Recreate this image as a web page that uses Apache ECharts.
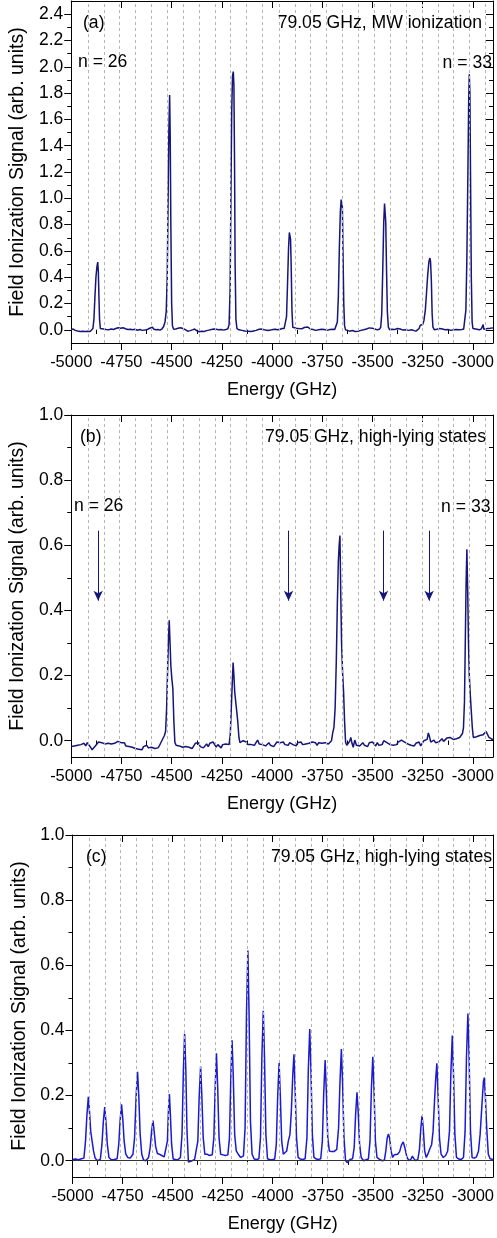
<!DOCTYPE html>
<html><head><meta charset="utf-8">
<script src="https://cdn.jsdelivr.net/npm/echarts@6/dist/echarts.min.js"></script>
<style>html,body{margin:0;padding:0;background:#fff}#c{width:497px;height:1238px}</style>
</head><body><div id="c"></div>
<script>
// ---------- data ----------
const energyTicks = [-5000,-4750,-4500,-4250,-4000,-3750,-3500,-3250,-3000];
const energyMinorTicks = [-4875,-4625,-4375,-4125,-3875,-3625,-3375,-3125];
const yTicksA = [0,0.2,0.4,0.6,0.8,1.0,1.2,1.4,1.6,1.8,2.0,2.2,2.4];
const yMinorA = [0.1,0.3,0.5,0.7,0.9,1.1,1.3,1.5,1.7,1.9,2.1,2.3];
const yTicksBC = [0,0.2,0.4,0.6,0.8,1.0];
const yMinorBC = [0.1,0.3,0.5,0.7,0.9];
// dotted reference lines (GHz)
const levelLines = [-4917,-4838,-4759,-4680,-4601,-4522,-4443,-4364,-4285,-4206,-4127,-4047,-3966,-3887,-3808,-3730,-3650,-3570,-3491,-3412,-3333,-3252,-3173,-3096,-3017,-2940];
// arrows in panel (b)
const arrowEnergies = [-4866,-3918,-3445,-3218];
const arrowTop = 0.645, arrowBottom = 0.43;

const signalA = [[-5000,0.002],[-4990,0.006],[-4980,-0.004],[-4968,-0.008],[-4955,-0.012],[-4942,-0.01],[-4930,-0.013],[-4918,-0.01],[-4906,-0.012],[-4898,-0.006],[-4892,0.01],[-4887,0.08],[-4882,0.25],[-4877,0.4],[-4872,0.48],[-4868,0.515],[-4865,0.44],[-4862,0.25],[-4859,0.08],[-4855,0.01],[-4848,0.0],[-4838,0.006],[-4826,0.002],[-4814,0.0],[-4802,0.006],[-4790,0.003],[-4778,0.01],[-4766,0.016],[-4754,0.012],[-4742,0.016],[-4730,0.008],[-4718,0.002],[-4706,0.005],[-4694,0.0],[-4682,0.004],[-4670,-0.003],[-4658,0.002],[-4646,-0.004],[-4634,-0.002],[-4622,0.002],[-4612,0.01],[-4604,0.022],[-4596,0.02],[-4588,0.004],[-4578,0.0],[-4568,0.003],[-4558,-0.002],[-4548,0.008],[-4540,0.025],[-4533,0.06],[-4527,0.14],[-4522,0.4],[-4518,0.95],[-4514,1.5],[-4510,1.785],[-4507,1.45],[-4504,0.8],[-4500,0.2],[-4496,0.03],[-4490,0.004],[-4480,0.006],[-4468,0.012],[-4456,0.016],[-4444,0.01],[-4432,0.002],[-4420,-0.01],[-4408,-0.006],[-4396,0.0],[-4386,0.006],[-4374,-0.008],[-4362,-0.014],[-4350,-0.01],[-4338,-0.012],[-4326,-0.006],[-4314,-0.002],[-4302,0.002],[-4290,0.006],[-4278,0.004],[-4266,0.0],[-4254,0.003],[-4242,-0.002],[-4230,0.002],[-4220,0.008],[-4214,0.04],[-4209,0.3],[-4205,1.0],[-4201,1.65],[-4197,1.93],[-4193,1.963],[-4190,1.86],[-4187,1.3],[-4184,0.5],[-4180,0.08],[-4175,0.01],[-4165,0.0],[-4150,-0.004],[-4135,-0.008],[-4120,-0.01],[-4105,-0.013],[-4092,-0.008],[-4080,-0.004],[-4068,0.002],[-4056,0.006],[-4044,0.003],[-4032,-0.002],[-4020,-0.005],[-4008,-0.002],[-3996,0.003],[-3984,0.005],[-3972,0.0],[-3960,0.004],[-3950,0.01],[-3940,0.01],[-3933,0.025],[-3928,0.1],[-3923,0.35],[-3918,0.62],[-3914,0.74],[-3911,0.744],[-3908,0.69],[-3905,0.5],[-3901,0.15],[-3897,0.02],[-3890,0.005],[-3880,0.012],[-3868,0.01],[-3852,0.008],[-3840,0.018],[-3832,0.03],[-3822,0.022],[-3810,0.006],[-3796,0.002],[-3782,-0.004],[-3768,0.0],[-3754,0.004],[-3740,0.002],[-3726,-0.004],[-3712,0.002],[-3698,0.004],[-3688,0.003],[-3680,0.015],[-3675,0.06],[-3670,0.25],[-3665,0.62],[-3660,0.9],[-3656,0.99],[-3653,1.0],[-3650,0.93],[-3647,0.6],[-3643,0.2],[-3639,0.03],[-3634,0.0],[-3626,-0.006],[-3614,-0.01],[-3600,-0.005],[-3586,-0.012],[-3572,-0.01],[-3558,-0.004],[-3544,0.0],[-3530,0.006],[-3516,0.015],[-3502,0.013],[-3488,0.006],[-3476,0.0],[-3466,0.004],[-3459,0.02],[-3454,0.12],[-3449,0.45],[-3444,0.82],[-3440,0.96],[-3437,0.973],[-3434,0.82],[-3430,0.45],[-3426,0.14],[-3421,0.02],[-3414,0.0],[-3404,0.004],[-3390,0.002],[-3376,0.01],[-3362,0.006],[-3348,-0.002],[-3334,0.0],[-3320,-0.004],[-3306,0.0],[-3292,-0.006],[-3282,-0.008],[-3274,-0.013],[-3268,0.01],[-3262,0.035],[-3256,0.045],[-3250,0.04],[-3244,0.07],[-3237,0.15],[-3231,0.28],[-3225,0.42],[-3219,0.52],[-3214,0.546],[-3211,0.52],[-3207,0.38],[-3203,0.12],[-3199,0.02],[-3192,0.0],[-3180,0.004],[-3166,0.01],[-3152,0.006],[-3138,0.0],[-3124,0.003],[-3110,-0.004],[-3096,0.0],[-3082,0.002],[-3068,0.0],[-3056,0.002],[-3046,0.006],[-3040,0.02],[-3035,0.15],[-3030,0.55],[-3025,1.2],[-3021,1.75],[-3018,1.943],[-3015,1.8],[-3012,1.2],[-3008,0.4],[-3004,0.06],[-3000,0.01],[-2992,0.0],[-2980,0.004],[-2968,0.0],[-2958,0.008],[-2952,0.02],[-2949,0.04],[-2946,0.005],[-2938,0.004],[-2926,0.01],[-2914,0.012],[-2900,0.015]];

const signalB = [[-5000,-0.018],[-4992,-0.02],[-4984,-0.016],[-4976,-0.022],[-4968,-0.014],[-4960,-0.02],[-4952,-0.012],[-4944,-0.018],[-4936,-0.008],[-4928,-0.016],[-4920,-0.006],[-4912,-0.012],[-4904,-0.02],[-4896,-0.028],[-4888,-0.024],[-4880,-0.016],[-4872,-0.01],[-4864,-0.004],[-4856,0.0],[-4848,-0.006],[-4840,-0.012],[-4832,-0.01],[-4824,-0.014],[-4816,-0.008],[-4808,-0.014],[-4800,-0.01],[-4792,-0.016],[-4784,-0.008],[-4776,-0.012],[-4768,-0.002],[-4760,0.004],[-4752,-0.006],[-4744,-0.012],[-4736,-0.006],[-4728,-0.016],[-4720,-0.01],[-4712,-0.018],[-4704,-0.012],[-4696,-0.02],[-4688,-0.016],[-4680,-0.024],[-4672,-0.018],[-4664,-0.026],[-4656,-0.02],[-4648,-0.028],[-4640,-0.018],[-4632,-0.024],[-4624,-0.014],[-4616,-0.022],[-4608,-0.028],[-4600,-0.02],[-4592,-0.026],[-4584,-0.024],[-4576,-0.03],[-4568,-0.022],[-4560,-0.014],[-4552,-0.004],[-4544,0.006],[-4536,0.016],[-4530,0.03],[-4525,0.1],[-4520,0.22],[-4516,0.31],[-4512,0.37],[-4508,0.3],[-4504,0.23],[-4499,0.19],[-4494,0.16],[-4489,0.06],[-4484,-0.005],[-4478,-0.014],[-4470,-0.01],[-4462,-0.016],[-4454,-0.012],[-4446,-0.02],[-4438,-0.014],[-4430,-0.018],[-4422,-0.012],[-4414,-0.02],[-4406,-0.014],[-4398,-0.024],[-4390,-0.016],[-4382,-0.008],[-4374,-0.014],[-4366,-0.006],[-4358,-0.018],[-4350,-0.012],[-4342,-0.022],[-4334,-0.016],[-4326,-0.01],[-4318,-0.018],[-4310,-0.008],[-4302,-0.014],[-4294,-0.004],[-4286,-0.012],[-4278,-0.02],[-4270,-0.012],[-4262,-0.016],[-4254,-0.022],[-4246,-0.012],[-4238,-0.018],[-4230,-0.01],[-4222,-0.016],[-4214,-0.012],[-4208,0.02],[-4203,0.1],[-4198,0.18],[-4194,0.24],[-4190,0.2],[-4186,0.15],[-4181,0.12],[-4176,0.09],[-4171,0.06],[-4165,0.01],[-4160,-0.006],[-4152,-0.004],[-4144,0.0],[-4136,-0.006],[-4128,-0.004],[-4120,-0.012],[-4112,-0.008],[-4104,-0.012],[-4096,-0.006],[-4088,-0.014],[-4080,-0.006],[-4072,0.002],[-4064,-0.01],[-4056,-0.004],[-4048,-0.012],[-4040,-0.008],[-4032,-0.016],[-4024,-0.01],[-4016,-0.006],[-4008,-0.014],[-4000,-0.008],[-3992,-0.018],[-3984,-0.012],[-3976,-0.004],[-3968,-0.008],[-3960,-0.006],[-3952,-0.01],[-3944,-0.004],[-3936,-0.012],[-3928,-0.008],[-3920,-0.014],[-3912,-0.006],[-3904,0.0],[-3896,-0.012],[-3888,-0.008],[-3880,-0.016],[-3872,-0.006],[-3864,-0.01],[-3856,-0.004],[-3848,-0.012],[-3840,-0.006],[-3832,-0.01],[-3824,-0.016],[-3816,-0.008],[-3808,-0.012],[-3800,-0.004],[-3792,-0.01],[-3784,-0.006],[-3776,-0.014],[-3768,-0.006],[-3760,-0.012],[-3752,-0.008],[-3744,-0.014],[-3736,-0.006],[-3728,-0.012],[-3720,-0.01],[-3712,-0.016],[-3704,0.0],[-3698,0.025],[-3692,0.04],[-3686,0.1],[-3680,0.25],[-3675,0.42],[-3670,0.55],[-3666,0.6],[-3662,0.63],[-3658,0.45],[-3654,0.3],[-3649,0.21],[-3644,0.15],[-3639,0.06],[-3634,-0.005],[-3628,-0.014],[-3620,-0.02],[-3614,-0.002],[-3608,0.01],[-3602,-0.008],[-3596,-0.02],[-3588,0.002],[-3580,-0.014],[-3572,-0.01],[-3564,-0.016],[-3556,-0.012],[-3548,-0.006],[-3540,-0.014],[-3532,-0.008],[-3524,-0.018],[-3516,-0.006],[-3508,-0.012],[-3500,-0.004],[-3492,-0.01],[-3484,-0.016],[-3476,-0.006],[-3468,-0.014],[-3460,-0.008],[-3452,-0.012],[-3444,0.0],[-3436,0.006],[-3428,-0.006],[-3420,-0.002],[-3412,-0.012],[-3404,-0.006],[-3396,-0.014],[-3388,-0.008],[-3380,-0.012],[-3372,-0.004],[-3364,-0.01],[-3356,0.002],[-3348,0.004],[-3340,-0.004],[-3332,-0.002],[-3324,-0.01],[-3316,-0.006],[-3308,-0.014],[-3300,-0.01],[-3292,-0.016],[-3284,-0.008],[-3276,-0.012],[-3268,-0.004],[-3260,-0.016],[-3252,-0.01],[-3244,0.0],[-3236,-0.002],[-3228,0.004],[-3222,0.024],[-3216,0.012],[-3210,-0.004],[-3202,-0.01],[-3194,0.002],[-3186,-0.006],[-3178,0.0],[-3170,-0.004],[-3162,0.002],[-3154,0.006],[-3146,-0.002],[-3138,0.004],[-3130,0.008],[-3122,0.002],[-3114,0.01],[-3106,0.016],[-3098,0.004],[-3090,0.008],[-3082,0.006],[-3074,0.012],[-3066,0.01],[-3058,0.016],[-3052,0.022],[-3047,0.04],[-3042,0.12],[-3038,0.3],[-3034,0.48],[-3030,0.588],[-3026,0.46],[-3022,0.3],[-3018,0.2],[-3013,0.14],[-3008,0.09],[-3003,0.04],[-2998,0.01],[-2990,0.008],[-2982,0.012],[-2974,0.01],[-2966,0.016],[-2958,0.012],[-2950,0.018],[-2942,0.02],[-2934,0.028],[-2928,0.022],[-2920,0.01],[-2912,0.012],[-2904,0.004],[-2900,0.006]];

const signalC = [[-5000,0.004],[-4985,0.005],[-4970,0.003],[-4955,0.006],[-4943,0.008],[-4935,0.06],[-4928,0.14],[-4921,0.196],[-4915,0.15],[-4909,0.09],[-4902,0.06],[-4895,0.03],[-4887,0.008],[-4876,0.0],[-4868,0.002],[-4861,0.004],[-4853,0.05],[-4846,0.12],[-4839,0.165],[-4833,0.12],[-4826,0.05],[-4818,0.01],[-4806,0.003],[-4792,0.004],[-4777,0.006],[-4769,0.05],[-4762,0.125],[-4755,0.173],[-4749,0.13],[-4742,0.06],[-4734,0.02],[-4724,0.01],[-4712,0.008],[-4704,0.012],[-4698,0.02],[-4690,0.07],[-4682,0.2],[-4675,0.273],[-4669,0.2],[-4662,0.08],[-4654,0.02],[-4645,0.002],[-4634,0.0],[-4626,0.004],[-4620,0.01],[-4612,0.04],[-4605,0.09],[-4598,0.123],[-4592,0.09],[-4585,0.045],[-4576,0.022],[-4566,0.02],[-4554,0.016],[-4542,0.012],[-4534,0.012],[-4526,0.06],[-4521,0.15],[-4516,0.205],[-4511,0.14],[-4505,0.05],[-4497,0.005],[-4488,0.0],[-4476,0.002],[-4468,0.004],[-4461,0.01],[-4453,0.08],[-4446,0.28],[-4440,0.39],[-4434,0.28],[-4428,0.09],[-4421,-0.004],[-4413,-0.003],[-4402,0.0],[-4390,0.004],[-4382,0.006],[-4374,0.06],[-4367,0.2],[-4360,0.29],[-4354,0.2],[-4347,0.07],[-4339,0.02],[-4328,0.02],[-4316,0.016],[-4308,0.016],[-4302,0.018],[-4294,0.07],[-4287,0.23],[-4281,0.33],[-4275,0.23],[-4268,0.07],[-4260,0.02],[-4248,0.018],[-4236,0.016],[-4224,0.018],[-4216,0.07],[-4209,0.26],[-4203,0.37],[-4197,0.26],[-4190,0.08],[-4182,0.03],[-4172,0.02],[-4160,0.01],[-4152,0.01],[-4146,0.015],[-4138,0.1],[-4131,0.45],[-4124,0.645],[-4118,0.45],[-4111,0.12],[-4103,0.02],[-4092,0.005],[-4080,0.004],[-4069,0.006],[-4061,0.07],[-4054,0.32],[-4047,0.46],[-4041,0.32],[-4034,0.08],[-4026,0.006],[-4014,0.003],[-4002,0.003],[-3990,0.005],[-3982,0.05],[-3975,0.2],[-3968,0.30],[-3962,0.2],[-3955,0.06],[-3947,0.02],[-3938,0.014],[-3930,0.03],[-3922,0.06],[-3914,0.08],[-3907,0.15],[-3900,0.26],[-3894,0.327],[-3888,0.22],[-3881,0.07],[-3873,0.01],[-3862,0.005],[-3850,0.004],[-3838,0.006],[-3829,0.07],[-3822,0.28],[-3815,0.404],[-3809,0.28],[-3802,0.08],[-3794,0.01],[-3782,0.005],[-3770,0.004],[-3760,0.006],[-3752,0.06],[-3745,0.21],[-3738,0.309],[-3732,0.21],[-3725,0.07],[-3717,0.03],[-3706,0.028],[-3694,0.028],[-3686,0.03],[-3680,0.035],[-3671,0.1],[-3664,0.24],[-3657,0.343],[-3651,0.24],[-3644,0.07],[-3636,0.0],[-3626,-0.006],[-3614,0.004],[-3601,0.006],[-3593,0.04],[-3586,0.14],[-3579,0.21],[-3573,0.15],[-3566,0.05],[-3558,0.01],[-3546,0.0],[-3534,0.003],[-3522,0.005],[-3514,0.06],[-3507,0.22],[-3500,0.319],[-3494,0.22],[-3487,0.06],[-3479,0.01],[-3466,0.004],[-3452,0.0],[-3442,0.002],[-3435,0.03],[-3428,0.07],[-3422,0.082],[-3416,0.07],[-3409,0.03],[-3401,0.01],[-3393,0.018],[-3385,0.022],[-3376,0.02],[-3366,0.028],[-3357,0.048],[-3348,0.058],[-3340,0.04],[-3330,0.012],[-3320,0.0],[-3310,0.004],[-3302,0.014],[-3295,0.006],[-3285,0.0],[-3275,0.004],[-3267,0.035],[-3260,0.1],[-3254,0.138],[-3248,0.1],[-3241,0.03],[-3233,0.01],[-3225,0.02],[-3216,0.035],[-3206,0.05],[-3199,0.09],[-3192,0.18],[-3186,0.25],[-3180,0.299],[-3174,0.2],[-3167,0.07],[-3159,0.02],[-3148,0.01],[-3136,0.016],[-3126,0.03],[-3117,0.09],[-3110,0.27],[-3103,0.384],[-3097,0.27],[-3090,0.08],[-3082,0.01],[-3070,0.005],[-3058,0.004],[-3047,0.01],[-3039,0.09],[-3032,0.32],[-3025,0.452],[-3019,0.32],[-3012,0.09],[-3004,0.01],[-2993,0.008],[-2982,0.012],[-2972,0.03],[-2964,0.08],[-2958,0.14],[-2952,0.2],[-2947,0.245],[-2943,0.255],[-2938,0.2],[-2931,0.1],[-2923,0.02],[-2914,0.006],[-2900,0.004]];

// ---------- layout / style ----------
const FONT = '"Liberation Sans", Arial, sans-serif';
const panels = [
  {grid:{left:70, top:1, width:423, height:342}, ymin:-0.1, ymax:2.5, ticks:yTicksA, minor:yMinorA, data:signalA, color:'#15157a', nameGap:42},
  {grid:{left:67, top:415, width:426, height:342}, ymin:-0.05, ymax:1.0, ticks:yTicksBC, minor:yMinorBC, data:signalB, color:'#15157a', nameGap:40},
  {grid:{left:72.5, top:835, width:427, height:342}, ymin:-0.05, ymax:1.0, ticks:yTicksBC, minor:yMinorBC, data:signalC, color:'#1a1ad0', nameGap:43}
];

const grids = [], xAxes = [], yAxes = [], series = [];
const black = {color:'#000', width:1};
panels.forEach((p, i) => {
  grids.push(Object.assign({containLabel:false}, p.grid));
  const xb = {gridIndex:i, type:'value', min:-5000, max:-2900, splitLine:{show:false}};
  xAxes.push(Object.assign({}, xb, {position:'bottom',
    axisLine:{show:true, onZero:false, lineStyle:black},
    axisTick:{show:true, customValues:energyTicks, length:7, inside:false, lineStyle:black},
    axisLabel:{show:true, customValues:energyTicks, color:'#000', fontSize:16.5, fontFamily:FONT, margin:11,
      formatter: v => String(v)},
    name:'Energy (GHz)', nameLocation:'middle', nameGap:38,
    nameTextStyle:{color:'#000', fontSize:18, fontFamily:FONT}}));
  xAxes.push(Object.assign({}, xb, {position:'bottom',
    axisLine:{show:false}, axisLabel:{show:false},
    axisTick:{show:true, customValues:energyMinorTicks, length:4, inside:false, lineStyle:black}}));
  xAxes.push(Object.assign({}, xb, {position:'top',
    axisLine:{show:true, onZero:false, lineStyle:black}, axisLabel:{show:false},
    axisTick:{show:true, customValues:energyTicks, length:7, inside:true, lineStyle:black}}));
  xAxes.push(Object.assign({}, xb, {position:'top',
    axisLine:{show:false}, axisLabel:{show:false},
    axisTick:{show:true, customValues:energyMinorTicks, length:4, inside:true, lineStyle:black}}));

  const yb = {gridIndex:i, type:'value', min:p.ymin, max:p.ymax, splitLine:{show:false}};
  yAxes.push(Object.assign({}, yb, {position:'left',
    axisLine:{show:true, onZero:false, lineStyle:black},
    axisTick:{show:true, customValues:p.ticks, length:7, inside:false, lineStyle:black},
    axisLabel:{show:true, customValues:p.ticks, color:'#000', fontSize:17.5, fontFamily:FONT, margin:8,
      formatter: v => v.toFixed(1)},
    name:'Field Ionization Signal (arb. units)', nameLocation:'middle', nameGap:p.nameGap,
    nameTextStyle:{color:'#000', fontSize:19.5, fontFamily:FONT}}));
  yAxes.push(Object.assign({}, yb, {position:'left',
    axisLine:{show:false}, axisLabel:{show:false},
    axisTick:{show:true, customValues:p.minor, length:4, inside:false, lineStyle:black}}));
  yAxes.push(Object.assign({}, yb, {position:'right',
    axisLine:{show:true, onZero:false, lineStyle:black}, axisLabel:{show:false},
    axisTick:{show:true, customValues:p.ticks, length:7, inside:true, lineStyle:black}}));
  yAxes.push(Object.assign({}, yb, {position:'right',
    axisLine:{show:false}, axisLabel:{show:false},
    axisTick:{show:true, customValues:p.minor, length:4, inside:true, lineStyle:black}}));

  // dotted vertical reference lines
  const refMark = levelLines.map(v => ({xAxis:v}));
  const extra = [];
  if (i === 2) extra.push({yAxis:0, lineStyle:{color:'#333', type:'solid', width:1}});
  series.push({type:'line', xAxisIndex:4*i, yAxisIndex:4*i, data:[], z:1, silent:true,
    markLine:{silent:true, symbol:'none', animation:false, label:{show:false},
      lineStyle:{color:'#b4b4b4', type:[3,3], width:1},
      data: refMark.concat(extra)}});
  const s = {type:'line', xAxisIndex:4*i, yAxisIndex:4*i, data:p.data, showSymbol:false,
    lineStyle:{color:p.color, width:1.5}, itemStyle:{color:p.color}, z:3, silent:true, animation:false};
  if (i === 1) {
    s.markLine = {silent:true, animation:false, symbol:['none','arrow'], symbolSize:[7,10],
      label:{show:false}, lineStyle:{color:'#15157a', type:'solid', width:1},
      data: arrowEnergies.map(e => [{coord:[e, arrowTop]}, {coord:[e, arrowBottom]}])};
  }
  series.push(s);
});

function txt(x, y, t, align) {
  return {type:'text', x:x, y:y, z:100, silent:true,
    style:{text:t, fill:'#000', font:'17.6px ' + FONT, align:align || 'left', verticalAlign:'middle'}};
}
const graphics = [
  txt(83, 23, '(a)'), txt(482, 23, '79.05 GHz, MW ionization', 'right'),
  txt(78, 62, 'n = 26'), txt(492, 63, 'n = 33', 'right'),
  txt(80, 437, '(b)'), txt(486, 437, '79.05 GHz, high-lying states', 'right'),
  txt(74, 506, 'n = 26'), txt(490.5, 507, 'n = 33', 'right'),
  txt(86, 857, '(c)'), txt(492, 857, '79.05 GHz, high-lying states', 'right')
];

const chart = echarts.init(document.getElementById('c'), null, {renderer:'canvas'});
chart.setOption({animation:false, backgroundColor:'#fff', grid:grids, xAxis:xAxes, yAxis:yAxes,
  series:series, graphic:graphics});
</script></body></html>
